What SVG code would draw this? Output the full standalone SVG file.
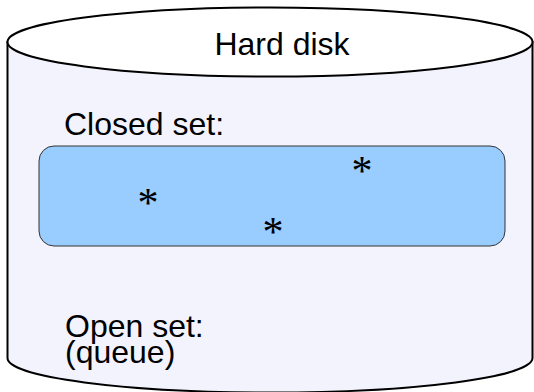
<svg xmlns="http://www.w3.org/2000/svg" width="534" height="392" viewBox="0 0 534 392">
  <style>
    .outline { stroke: #000; stroke-width: 2; }
    .label { font-family: "Liberation Sans", Arial, sans-serif; font-size: 32px; fill: #000; }
    .item { font-family: "Liberation Serif", "Times New Roman", serif; font-size: 42px; fill: #000; text-anchor: middle; }
  </style>
  <rect width="534" height="392" fill="#ffffff"/>

  <!-- Disk cylinder: body, then the top cap -->
  <g id="hard-disk">
    <path class="outline" fill="#f3f3fd" d="M 7.5 42 L 7.5 358 A 262.5 34.5 0 0 0 532.5 358 L 532.5 42 Z"/>
    <ellipse class="outline" fill="#ffffff" cx="270" cy="42" rx="262.5" ry="34.5"/>
    <text class="label" x="282" y="55" text-anchor="middle">Hard disk</text>
  </g>

  <!-- Closed set with its stored entries -->
  <g id="closed-set">
    <text class="label" x="64" y="135">Closed set:</text>
    <rect x="39" y="146" width="466" height="100" rx="15" ry="15" fill="#99ccff" stroke="#333333" stroke-width="1"/>
    <text class="item" x="362" y="185">*</text>
    <text class="item" x="148" y="217">*</text>
    <text class="item" x="273" y="246">*</text>
  </g>

  <!-- Open set (queue) -->
  <g id="open-set">
    <text class="label" x="65" y="337">Open set:</text>
    <text class="label" x="65" y="363">(queue)</text>
  </g>
</svg>
